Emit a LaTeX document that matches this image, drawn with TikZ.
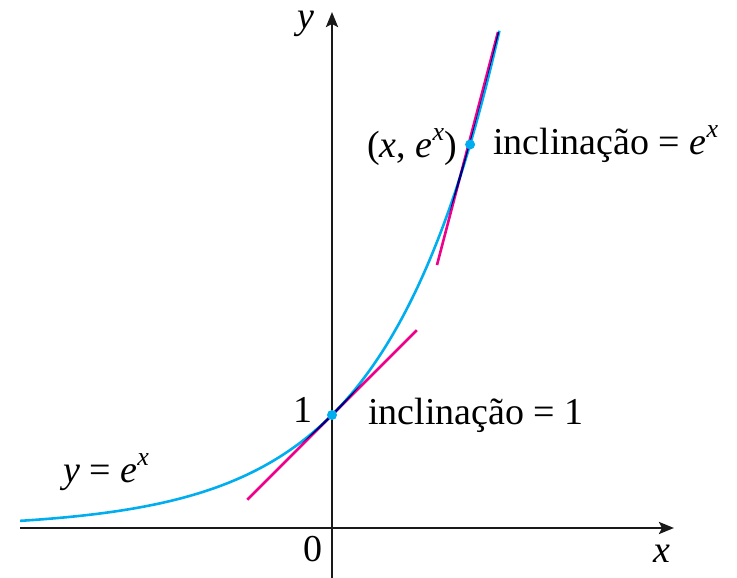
\documentclass[tikz,border=0pt]{standalone}
\usepackage{fontspec}
\setmainfont{Liberation Serif}
\usetikzlibrary{arrows.meta}
\definecolor{curvecyan}{RGB}{0,174,239}
\definecolor{tanmag}{RGB}{236,0,140}
\begin{document}
\begin{tikzpicture}[x=113pt,y=113pt,
  axis/.style={line width=2.6pt,black!90,-{Stealth[length=15pt,width=12pt,inset=3pt]}},
  lbl/.style={inner sep=0pt,font=\fontsize{38}{42}\selectfont},
  curvestyle/.style={line width=2.6pt,curvecyan},
  tanstyle/.style={line width=2.6pt,tanmag},
  dotstyle/.style={circle,fill=curvecyan,inner sep=0pt,minimum size=10pt}]
\useasboundingbox (-332pt,-50pt) rectangle (405pt,528pt);
% axes
\coordinate (xl) at (-312pt,0);
\coordinate (xr) at (342pt,0);
\coordinate (yb) at (0,-50pt);
\coordinate (yt) at (0,516pt);
\draw[axis] (xl) -- (xr);
\draw[axis] (yb) -- (yt);
% curve
\draw[curvestyle] plot[domain=-2.76:1.483,samples=120,smooth] (\x,{exp(\x)});
% tangents
\coordinate (t1a) at (-0.75,0.25);
\coordinate (t1b) at (0.75,1.75);
\coordinate (t2a) at (0.929,2.327);
\coordinate (t2b) at (1.469,4.389);
\begin{scope}[blend mode=multiply]
\draw[tanstyle] (t1a) -- (t1b);
\draw[tanstyle] (t2a) -- (t2b);
\end{scope}
% points
\node[dotstyle] (p0) at (0,1) {};
\node[dotstyle] (p1) at (1.222,{exp(1.222)}) {};
% labels
\node[lbl] (ylab) at (-26pt,504pt) {\textit{y}};
\node[lbl] (xlab) at (330pt,-26pt) {\textit{x}};
\node[lbl] (zero) at (-19pt,-21pt) {0};
\node[lbl,anchor=base east] (one) at (-19pt,105pt) {1};
\node[lbl,anchor=base west] (feq) at (-269pt,45pt) {\textit{y} = \textit{e}\raisebox{0.45em}{\fontsize{26}{28}\selectfont\textit{x}}};
\node[lbl,anchor=base east] (pt) at (125pt,370pt) {(\textit{x}, \textit{e}\raisebox{0.45em}{\fontsize{26}{28}\selectfont\textit{x}})};
\node[lbl,anchor=base west] (s1) at (161pt,373pt) {inclinação = \textit{e}\raisebox{0.45em}{\fontsize{26}{28}\selectfont\textit{x}}};
\node[lbl,anchor=base west] (s0) at (36pt,103pt) {inclinação = 1};
\end{tikzpicture}
\end{document}
